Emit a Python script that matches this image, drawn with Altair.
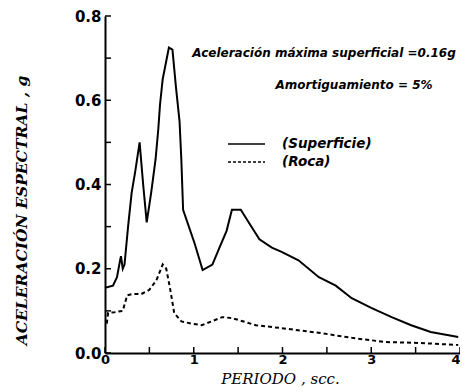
import altair as alt
import pandas as pd

# Superficie (solid)
sup_t = [0.0, 0.09, 0.135, 0.17, 0.18, 0.20, 0.22, 0.26, 0.30, 0.34, 0.39, 0.43, 0.47, 0.52, 0.57,
         0.60, 0.62, 0.65, 0.72, 0.76, 0.80, 0.84, 0.86, 0.88, 1.01, 1.10, 1.21, 1.29, 1.37, 1.43,
         1.53, 1.62, 1.74, 1.88, 1.99, 2.18, 2.41, 2.60, 2.78, 3.00, 3.23, 3.45, 3.67, 3.98]
sup_v = [0.155, 0.16, 0.18, 0.22, 0.23, 0.20, 0.21, 0.30, 0.38, 0.43, 0.50, 0.40, 0.31, 0.38, 0.46,
         0.53, 0.59, 0.65, 0.725, 0.72, 0.63, 0.55, 0.46, 0.34, 0.26, 0.197, 0.21, 0.25, 0.29, 0.34,
         0.34, 0.31, 0.27, 0.25, 0.24, 0.22, 0.18, 0.16, 0.13, 0.107, 0.085, 0.066, 0.05, 0.038]

# Roca (dashed)
roc_t = [0.02, 0.035, 0.11, 0.20, 0.25, 0.31, 0.41, 0.50, 0.58, 0.65, 0.69, 0.73, 0.78, 0.86, 0.97,
         1.09, 1.32, 1.43, 1.70, 2.07, 2.44, 2.78, 3.16, 3.53, 3.98]
roc_v = [0.07, 0.095, 0.097, 0.10, 0.137, 0.14, 0.14, 0.15, 0.173, 0.21, 0.20, 0.157, 0.095, 0.075, 0.07,
         0.066, 0.085, 0.083, 0.066, 0.057, 0.047, 0.036, 0.026, 0.024, 0.019]

y_ticks = [0.0, 0.1, 0.2, 0.3, 0.4, 0.5, 0.6, 0.7, 0.8]
x_ticks = [0.0, 0.5, 1.0, 1.5, 2.0, 2.5, 3.0, 3.5, 4.0]

W, H = 355, 337
SERIF = "DejaVu Serif"
SANS = "DejaVu Sans"

sup = pd.DataFrame({"t": sup_t, "v": sup_v})
roc = pd.DataFrame({"t": roc_t, "v": roc_v})

xs = alt.Scale(domain=[0, 4], nice=False)
ys = alt.Scale(domain=[0, 0.8], nice=False)

x_axis = alt.Axis(values=[0, 1, 2, 3, 4], format="d", ticks=False, grid=False,
                  labelFont=SANS, labelFontSize=13, labelFontWeight="bold",
                  labelColor="black", labelPadding=0,
                  labelAlign={"expr": "datum.value == 4 ? 'right' : 'center'"},
                  domainColor="black", domainWidth=2,
                  title="PERIODO , scc.", titleFont=SERIF, titleFontSize=15,
                  titleFontStyle="italic", titleFontWeight="normal", titleColor="black",
                  titleX=175, titleY=25, titleBaseline="middle")
y_axis = alt.Axis(values=[0, 0.2, 0.4, 0.6, 0.8], format=".1f", ticks=False, grid=False,
                  labelFont=SANS, labelFontSize=15, labelFontWeight="bold",
                  labelColor="black", labelPadding=4,
                  domainColor="black", domainWidth=2,
                  title="ACELERACIÓN ESPECTRAL , g", titleFont=SERIF, titleFontSize=15.5,
                  titleFontStyle="italic", titleFontWeight="bold", titleColor="black",
                  titleX=-84, titleY=194, titleAlign="center", titleBaseline="middle")

base_x = alt.X("t:Q", scale=xs, axis=x_axis)
base_y = alt.Y("v:Q", scale=ys, axis=y_axis)

line_sup = alt.Chart(sup).mark_line(color="black", strokeWidth=2).encode(x=base_x, y=base_y)
line_roc = alt.Chart(roc).mark_line(color="black", strokeWidth=2, strokeDash=[4, 3]).encode(
    x=alt.X("t:Q", scale=xs), y=alt.Y("v:Q", scale=ys))

yt = alt.Chart(pd.DataFrame({"v": y_ticks})).mark_rule(color="black", strokeWidth=1.5).encode(
    y=alt.Y("v:Q", scale=ys), x=alt.value(0), x2=alt.value(6))
xt = alt.Chart(pd.DataFrame({"t": x_ticks})).mark_rule(color="black", strokeWidth=1.5).encode(
    x=alt.X("t:Q", scale=xs), y=alt.value(H), y2=alt.value(H - 6))

ann1 = alt.Chart(pd.DataFrame({"s": ["Aceleración máxima superficial =0.16g"]})).mark_text(
    font=SANS, fontSize=12, fontStyle="italic", fontWeight="bold", color="black",
    align="center", baseline="middle").encode(text="s:N", x=alt.value(219), y=alt.value(37))
ann2 = alt.Chart(pd.DataFrame({"s": ["Amortiguamiento = 5%"]})).mark_text(
    font=SANS, fontSize=12, fontStyle="italic", fontWeight="bold", color="black",
    align="center", baseline="middle").encode(text="s:N", x=alt.value(249), y=alt.value(69))

leg_txt = alt.Chart(pd.DataFrame({"s": ["(Superficie)", "(Roca)"], "yy": [128, 146]})).mark_text(
    font=SANS, fontSize=13.5, fontStyle="italic", fontWeight="bold", color="black",
    align="left", baseline="middle").encode(text="s:N", x=alt.value(177), y=alt.Y("yy:Q", scale=None))
leg_l1 = alt.Chart(pd.DataFrame({"a": [0]})).mark_rule(color="black", strokeWidth=1.5).encode(
    x=alt.value(123), x2=alt.value(160), y=alt.value(128))
leg_l2 = alt.Chart(pd.DataFrame({"a": [0]})).mark_rule(color="black", strokeWidth=1.5,
                                                         strokeDash=[3, 2]).encode(
    x=alt.value(123), x2=alt.value(160), y=alt.value(146))

chart = alt.layer(line_sup, line_roc, yt, xt, ann1, ann2, leg_txt, leg_l1, leg_l2).properties(
    width=W, height=H,
    autosize=alt.AutoSizeParams(type="none"),
    padding={"left": 97, "top": 8, "right": 0, "bottom": 36},
    background="white",
).configure_view(stroke=None)

chart.save("out.html", embed_options={"renderer": "svg", "actions": False})
